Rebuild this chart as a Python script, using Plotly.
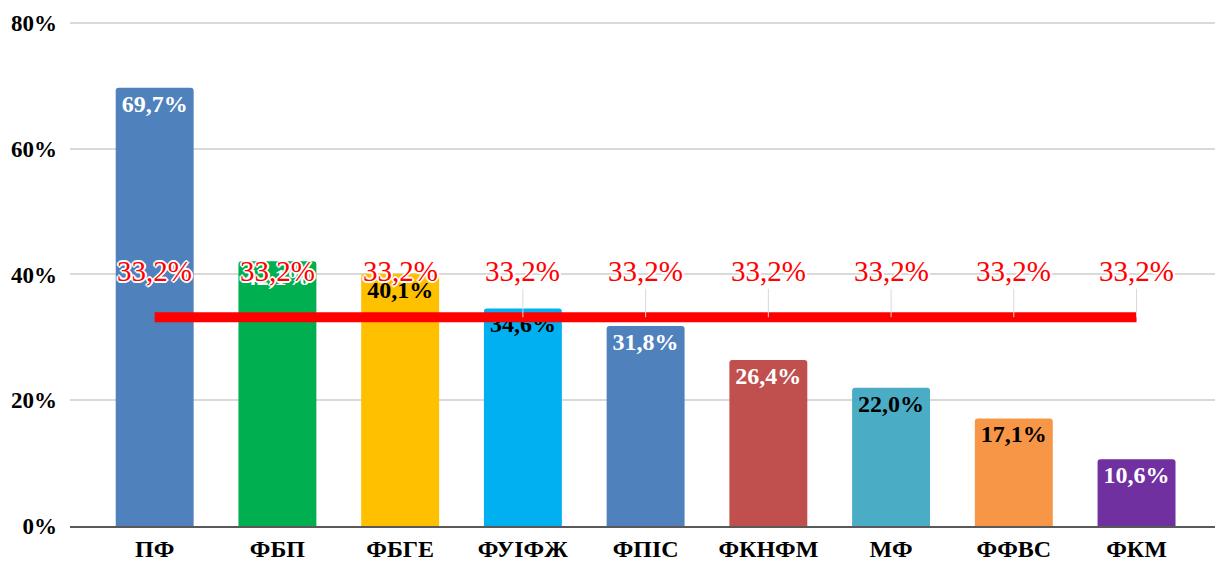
import plotly.graph_objects as go

categories = ["ПФ", "ФБП", "ФБГЕ", "ФУІФЖ", "ФПІС", "ФКНФМ", "МФ", "ФФВС", "ФКМ"]
values = [69.7, 42.1, 40.1, 34.6, 31.8, 26.4, 22.0, 17.1, 10.6]
average = [33.2] * 9
bar_colors = ["#4F81BD", "#00B050", "#FFC000", "#00B0F0", "#4F81BD",
              "#C0504D", "#4BACC6", "#F79646", "#7030A0"]
label_colors = ["white", "white", "black", "black", "white",
                "white", "black", "black", "white"]
y_ticks = [0, 20, 40, 60, 80]
y_tick_text = ["0%", "20%", "40%", "60%", "80%"]

def fmt(v):
    return f"{v:.1f}".replace(".", ",") + "%"

serif = "Liberation Serif, serif"

fig = go.Figure()
fig.add_trace(go.Bar(
    x=categories, y=values,
    marker=dict(color=bar_colors, line=dict(width=0)),
    width=0.635,
    text=[fmt(v) for v in values],
    textposition="inside",
    insidetextanchor="end",
    textangle=0,
    constraintext="none",
    textfont=dict(family=serif, size=24, color=label_colors, weight="bold"),
    hoverinfo="skip",
))
fig.add_trace(go.Scatter(
    x=categories, y=average, mode="lines",
    line=dict(color="#FF0000", width=10),
    hoverinfo="skip",
))

halo = ("1px 1px 0 white, -1px -1px 0 white, 1px -1px 0 white, -1px 1px 0 white, "
        "2px 0 0 white, -2px 0 0 white, 0 2px 0 white, 0 -2px 0 white")
for c, a, v in zip(categories, average, values):
    show = v < 38
    fig.add_annotation(
        x=c, y=a, text=fmt(a),
        showarrow=show, arrowhead=0, arrowwidth=1, arrowcolor="#D9D9D9",
        ax=0, ay=-46, yshift=0 if show else 46, yanchor="middle",
        font=dict(family=serif, size=29, color="#FF0000", weight="normal",
                  shadow=halo),
    )

fig.update_layout(
    width=1215, height=557,
    margin=dict(l=62, r=3, t=11, b=39),
    plot_bgcolor="white", paper_bgcolor="white",
    showlegend=False,
    barcornerradius=3,
    font=dict(family=serif),
    xaxis=dict(
        range=[-0.69, 8.68],
        showgrid=False,
        showline=True, linecolor="#595959", linewidth=2,
        ticks="",
        tickfont=dict(family=serif, size=24, color="black", weight="bold"),
    ),
    yaxis=dict(
        range=[0, 80.3],
        tickvals=y_ticks, ticktext=y_tick_text,
        showgrid=True, gridcolor="#D9D9D9", gridwidth=1.5,
        zeroline=False,
        ticks="", ticklabelstandoff=12,
        tickfont=dict(family=serif, size=23, color="black", weight="bold"),
    ),
)

fig.write_html("out.html")
